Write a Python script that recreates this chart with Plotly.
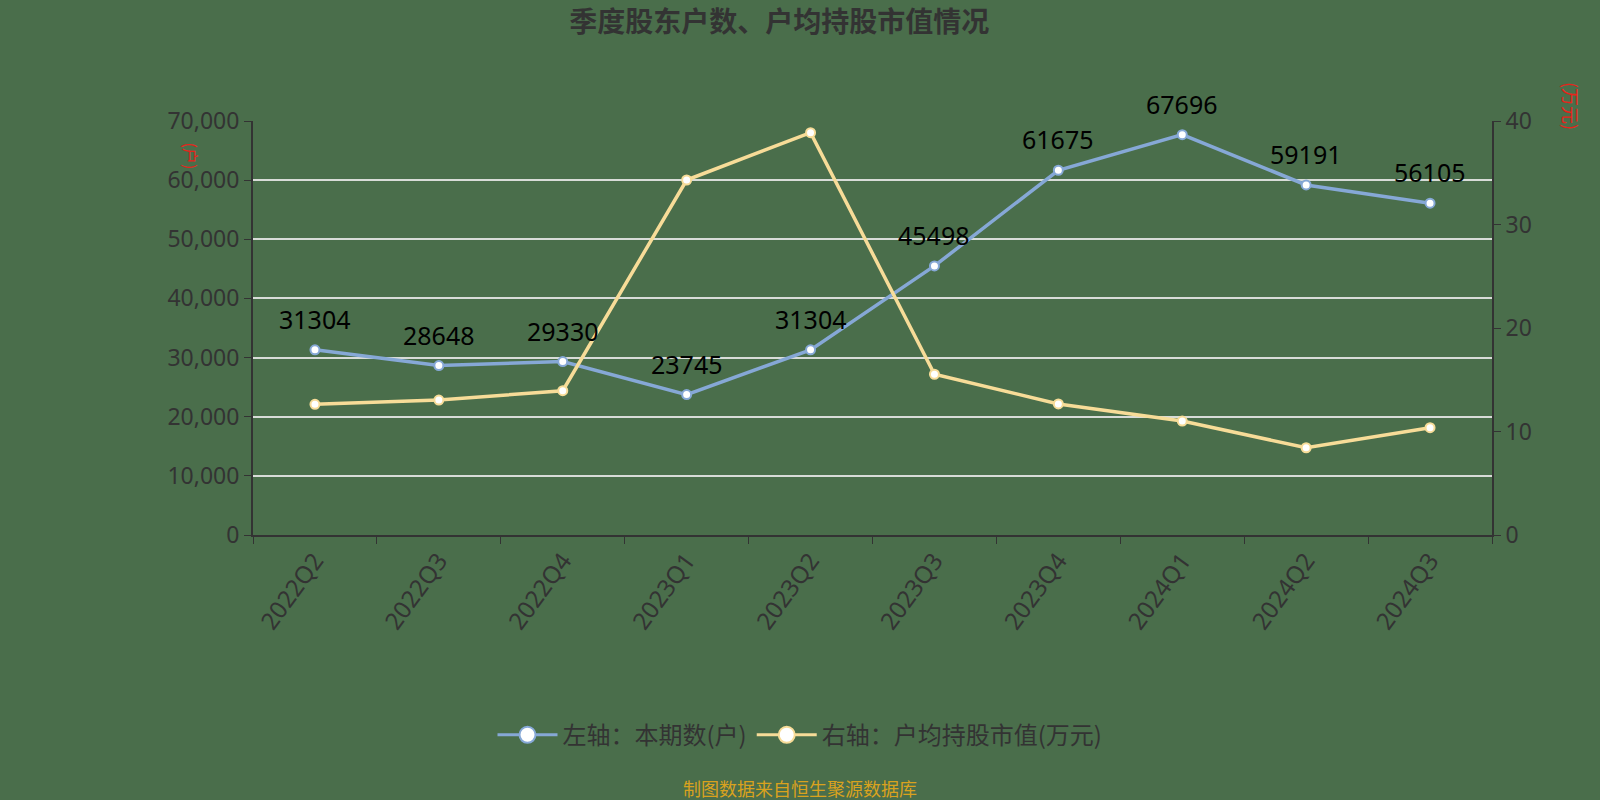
import plotly.graph_objects as go

quarters = ["2022Q2", "2022Q3", "2022Q4", "2023Q1", "2023Q2", "2023Q3",
            "2023Q4", "2024Q1", "2024Q2", "2024Q3"]
holders = [31304, 28648, 29330, 23745, 31304, 45498, 61675, 67696, 59191, 56105]
avg_value = [12.63, 13.04, 13.94, 34.3, 38.87, 15.53, 12.66, 11.01, 8.43, 10.37]

title_text = "季度股东户数、户均持股市值情况"
name_left = "左轴：本期数(户)"
name_right = "右轴：户均持股市值(万元)"
footer_text = "制图数据来自恒生聚源数据库"

BG = "#4a6e4b"
BLUE = "#86a8d6"
YELLOW = "#f7dc98"
AXIS = "#333333"

fig = go.Figure()

fig.add_trace(go.Scatter(
    x=quarters, y=holders, mode="lines+markers",
    line=dict(color=BLUE, width=3.5),
    marker=dict(size=9, color="#ffffff", line=dict(color=BLUE, width=2)),
    showlegend=False, yaxis="y",
))
fig.add_trace(go.Scatter(
    x=quarters, y=avg_value, mode="lines+markers",
    line=dict(color=YELLOW, width=3.5),
    marker=dict(size=9, color="#ffffff", line=dict(color=YELLOW, width=2)),
    showlegend=False, yaxis="y2",
))
# legend entries
fig.add_trace(go.Scatter(
    x=[None], y=[None], mode="lines+markers", name=name_left,
    line=dict(color=BLUE, width=3),
    marker=dict(size=24, color="#ffffff", line=dict(color=BLUE, width=2)),
))
fig.add_trace(go.Scatter(
    x=[None], y=[None], mode="lines+markers", name=name_right,
    line=dict(color=YELLOW, width=3),
    marker=dict(size=24, color="#ffffff", line=dict(color=YELLOW, width=2)),
    yaxis="y2",
))

annotations = [
    dict(x=q, y=v, xref="x", yref="y", text=str(v), showarrow=False,
         yanchor="middle", yshift=31,
         font=dict(size=25, color="#000000", family="Noto Sans"))
    for q, v in zip(quarters, holders)
]
annotations += [
    dict(text="(户)", xref="paper", yref="paper",
         x=(177 - 253) / 1239, y=(535 - 140) / 414,
         showarrow=False, textangle=90,
         font=dict(size=16, color="#e8231a", family="Noto Sans CJK SC")),
    dict(text="(万元)", xref="paper", yref="paper",
         x=(1586 - 253) / 1239, y=(535 - 80) / 414,
         showarrow=False, textangle=90,
         font=dict(size=18, color="#e8231a", family="Noto Sans CJK SC")),
    dict(text=footer_text, xref="paper", yref="paper",
         x=(800 - 253) / 1239, y=(535 - 788) / 414,
         showarrow=False, yanchor="middle",
         font=dict(size=18, color="#d9a21e", family="Noto Sans CJK SC")),
]

fig.update_layout(
    width=1600, height=800,
    paper_bgcolor=BG, plot_bgcolor=BG,
    margin=dict(l=253, r=108, t=121, b=265),
    font=dict(family="Noto Sans CJK SC", color=AXIS),
    title=dict(text="<b>" + title_text + "</b>", x=0.487, xanchor="center",
               y=0.972, yanchor="middle",
               font=dict(size=28, color="#333333", family="Noto Sans CJK SC")),
    xaxis=dict(
        type="category", tickson="boundaries", ticks="outside", ticklen=7,
        tickcolor=AXIS, showline=True, linecolor=AXIS, linewidth=2,
        showgrid=False, tickangle=-54,
        tickfont=dict(size=24, color=AXIS, family="Noto Sans"),
        range=[-0.5, 9.5],
    ),
    yaxis=dict(
        range=[0, 70000], dtick=10000, tickformat=",", ticks="outside",
        ticklen=7, tickcolor=AXIS, showline=True, linecolor=AXIS, linewidth=2,
        showgrid=True, gridcolor="#d8dcd8", gridwidth=1.5, zeroline=False,
        tickfont=dict(size=23, color=AXIS, family="Noto Sans"),
    ),
    yaxis2=dict(
        range=[0, 40], dtick=10, overlaying="y", side="right", ticks="outside",
        ticklen=7, tickcolor=AXIS, showline=True, linecolor=AXIS, linewidth=2,
        showgrid=False, zeroline=False,
        tickfont=dict(size=23, color=AXIS, family="Noto Sans"),
    ),
    legend=dict(
        orientation="h", xref="container", yref="container",
        x=0.5, xanchor="center", y=0.081, yanchor="middle",
        font=dict(size=24, color=AXIS, family="Noto Sans CJK SC"),
        bgcolor="rgba(0,0,0,0)", itemwidth=60,
    ),
    annotations=annotations,
)

fig.write_html("out.html",
               config={"displayModeBar": False},
               post_script="document.body.style.margin='0';document.body.style.padding='0';")
